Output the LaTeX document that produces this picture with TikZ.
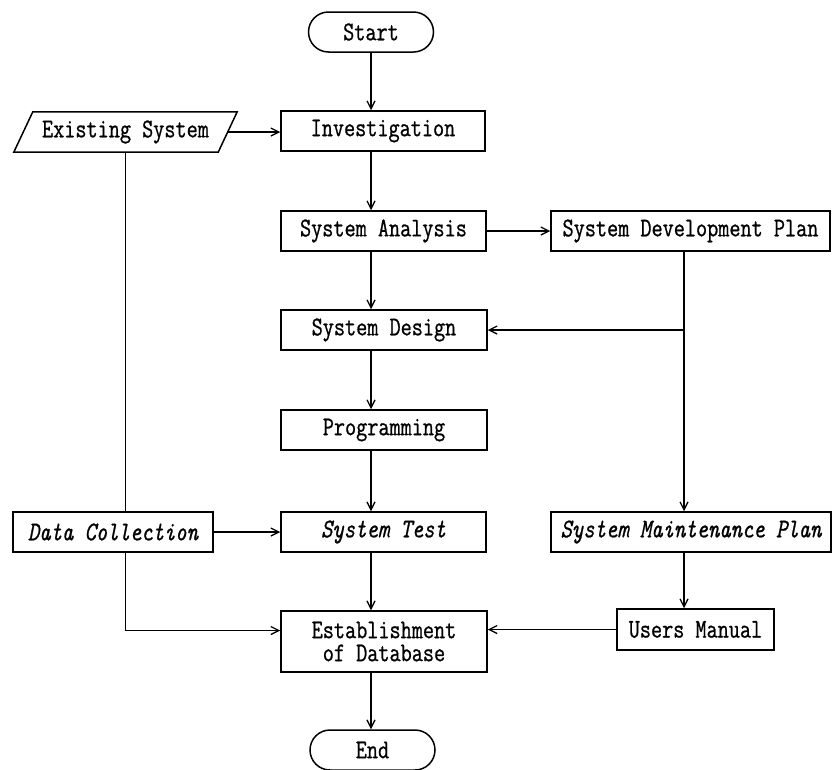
\documentclass[tikz,border=0pt]{standalone}
\usepackage{fontspec}
\usetikzlibrary{shapes.misc,arrows.meta,calc}
\newfontfamily\tw[FakeStretch=0.8,FakeBold=0.8]{Latin Modern Mono}
\begin{document}
\begin{tikzpicture}[x=1pt,y=-1pt,
  every node/.style={font=\tw\fontsize{27}{23}\selectfont, inner sep=0pt},
  box/.style={draw, rectangle, line width=1.5pt, minimum height=40pt},
  term/.style={draw, rounded rectangle, line width=1.5pt, minimum width=125pt, minimum height=40pt},
  flow/.style={line width=1.6pt, -{Straight Barb[length=8pt,width=8pt,line width=1.3pt]}},
  plain/.style={line width=1.6pt}]
\useasboundingbox (0,0) rectangle (833,769);
\coordinate (axis) at (371,0);
\coordinate (rx) at (684,0);

% main column
\node[term] (start) at (371,32) {Start};
\node[box, minimum width=204pt] (inv) at (383,131) {Investigation};
\node[box, minimum width=205pt] (ana) at (383.5,231) {System Analysis};
\node[box, minimum width=206pt] (des) at (384,330) {System Design};
\node[box, minimum width=206pt] (prog) at (384,430) {Programming};
\node[box, minimum width=205pt] (test) at (383.5,532) {\itshape System Test};
\node[box, minimum width=206pt, minimum height=61pt, align=center] (est) at (384,641.5) {Establishment\\of Database};
\node[term] (end) at (372.5,750) {End};

% left column
\node[minimum width=204pt, minimum height=40pt] (exs) at (125.5,132) {Existing System};
\draw[line width=1.5pt] ($(exs.north west)+(9.5,0)$) -- ($(exs.north east)+(9.5,0)$)
  -- ($(exs.south east)-(9.5,0)$) -- ($(exs.south west)-(9.5,0)$) -- cycle;
\node[box, minimum width=200pt] (dc) at (113,532) {\itshape Data Collection};

% right column
\node[box, minimum width=279pt] (sdp) at (690.5,231) {System Development Plan};
\node[box, minimum width=280pt] (smp) at (691,532) {\itshape System Maintenance Plan};
\node[box, minimum width=157pt, minimum height=41pt] (um) at (695.5,629.5) {Users Manual};

% connectors along the main column
\draw[flow] (start.south -| axis) -- (inv.north -| axis);
\draw[flow] (inv.south -| axis) -- (ana.north -| axis);
\draw[flow] (ana.south -| axis) -- (des.north -| axis);
\draw[flow] (des.south -| axis) -- (prog.north -| axis);
\draw[flow] (prog.south -| axis) -- (test.north -| axis);
\draw[flow] (test.south -| axis) -- (est.north -| axis);
\draw[flow] (est.south -| axis) -- (end.north -| axis);

% left branch
\draw[flow] (exs.east) -- (inv.west |- exs.east);
\draw[plain] (exs.south) -- (exs.south |- dc.north);
\draw[flow] (dc.east) -- (test.west);
\draw[flow] (exs.south |- dc.south) |- ([yshift=11pt]est.west);

% right branch
\draw[flow] (ana.east) -- (sdp.west);
\draw[flow] (sdp.south -| rx) |- (des.east);
\draw[flow] (sdp.south -| rx) -- (smp.north -| rx);
\draw[flow] (smp.south -| rx) -- (um.north -| rx);
\draw[flow] (um.west) -- (um.west -| est.east);
\end{tikzpicture}
\end{document}
